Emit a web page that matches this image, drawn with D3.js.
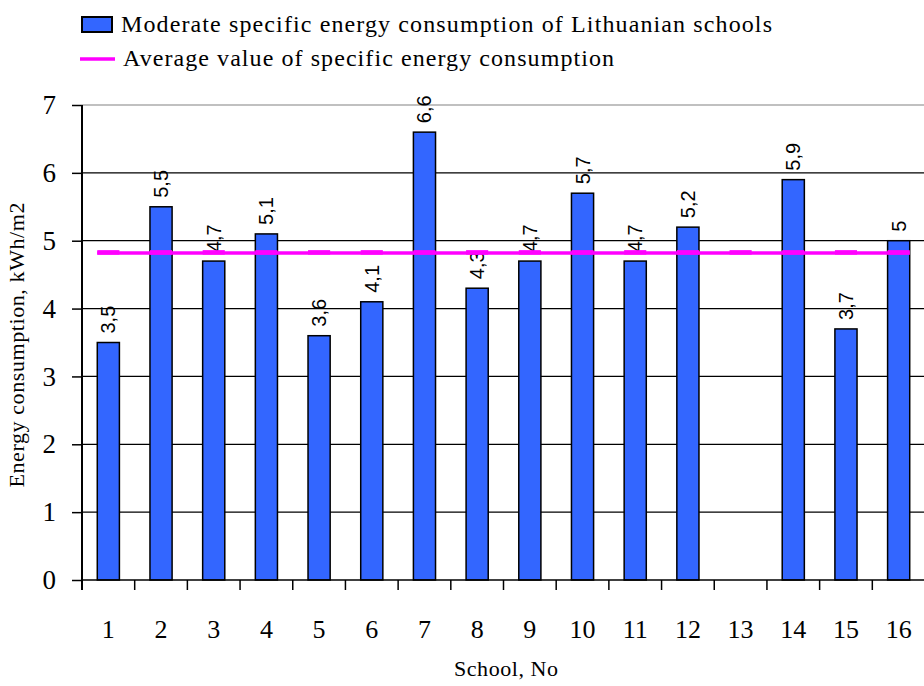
<!DOCTYPE html>
<html>
<head>
<meta charset="utf-8">
<script src="https://cdn.jsdelivr.net/npm/d3@7"></script>
<style>
  html, body { margin: 0; padding: 0; background: #fff; }
  svg { display: block; }
</style>
</head>
<body>
<svg id="chart" width="924" height="686"></svg>
<script>
const schools = ["1","2","3","4","5","6","7","8","9","10","11","12","13","14","15","16"];
const consumption = [3.5, 5.5, 4.7, 5.1, 3.6, 4.1, 6.6, 4.3, 4.7, 5.7, 4.7, 5.2, null, 5.9, 3.7, 5];
const valueLabels = ["3,5","5,5","4,7","5,1","3,6","4,1","6,6","4,3","4,7","5,7","4,7","5,2","","5,9","3,7","5"];
const average = [4.82,4.82,4.82,4.82,4.82,4.82,4.82,4.82,4.82,4.82,4.82,4.82,4.82,4.82,4.82,4.82];
const yTicks = [0,1,2,3,4,5,6,7];
const seriesNames = ["Moderate specific energy consumption of Lithuanian schools",
                     "Average value of specific energy consumption"];

(function () {
const svg = d3.select("#chart");
const pLeft = 82, pRight = 925, pTop = 105, pBottom = 580;
const serif = "'Liberation Serif', 'Times New Roman', serif";
const sans = "'Liberation Sans', Arial, sans-serif";

const x = d3.scaleBand().domain(schools).range([pLeft, pRight]).padding(0);
const y = d3.scaleLinear().domain([0, 7]).range([pBottom, pTop]);
const barW = x.bandwidth() * 0.42;
const cx = s => x(s) + x.bandwidth() / 2;

// gridlines
svg.append("g").selectAll("line").data(yTicks.filter(d => d > 0)).join("line")
  .attr("x1", pLeft).attr("x2", 924)
  .attr("y1", d => y(d)).attr("y2", d => y(d))
  .attr("stroke", d => d === 7 ? "#c0c0c0" : "#000")
  .attr("stroke-width", d => d === 7 ? 2 : 1.3);

const rows = schools.map((s, i) => ({s, v: consumption[i], l: valueLabels[i]})).filter(d => d.v != null);

// bars
svg.append("g").selectAll("rect").data(rows).join("rect")
  .attr("x", d => cx(d.s) - barW / 2)
  .attr("width", barW)
  .attr("y", d => y(d.v))
  .attr("height", d => y(0) - y(d.v))
  .attr("fill", "#3366FF")
  .attr("stroke", "#000")
  .attr("stroke-width", 1.5);

// value labels
svg.append("g").selectAll("text").data(rows).join("text")
  .attr("transform", d => `translate(${cx(d.s) + 7},${y(d.v) - 9}) rotate(-90)`)
  .attr("font-family", sans).attr("font-size", 20)
  .attr("fill", "#000")
  .text(d => d.l);

// average line
const avgG = svg.append("g");
avgG.append("path").datum(average)
  .attr("d", d3.line()
    .x((d, i) => cx(schools[i]) + (i === 0 ? -barW / 2 : i === schools.length - 1 ? barW / 2 : 0))
    .y(d => y(d)))
  .attr("fill", "none").attr("stroke", "#FF00FF").attr("stroke-width", 3.5);
avgG.selectAll("rect").data(average).join("rect")
  .attr("x", (d, i) => cx(schools[i]) - barW / 2)
  .attr("y", d => y(d) - 2.8)
  .attr("width", barW).attr("height", 4.5)
  .attr("fill", "#FF00FF");

// y axis
const yAxis = svg.append("g").attr("transform", `translate(${pLeft},0)`)
  .call(d3.axisLeft(y).tickValues(yTicks).tickSize(10).tickPadding(16).tickFormat(d3.format("d")));
yAxis.select(".domain").attr("d", `M0,${pTop}V${pBottom + 10}`).attr("stroke", "#000").attr("stroke-width", 2);
yAxis.selectAll(".tick line").attr("stroke", "#000").attr("stroke-width", 1.5);
yAxis.selectAll(".tick text").attr("font-family", serif).attr("font-size", 27).attr("fill", "#000");

// x axis
const xAxis = svg.append("g").attr("transform", `translate(0,${pBottom})`)
  .call(d3.axisBottom(x).tickSize(0).tickPadding(40));
xAxis.select(".domain").attr("d", `M${pLeft},0H${924}`).attr("stroke", "#000").attr("stroke-width", 1.5);
xAxis.selectAll(".tick text").attr("font-family", serif).attr("font-size", 26).attr("fill", "#000");
xAxis.append("g").selectAll("line").data(schools).join("line")
  .attr("x1", d => x(d)).attr("x2", d => x(d)).attr("y1", 0).attr("y2", 10)
  .attr("stroke", "#000").attr("stroke-width", 1.5);

// axis titles
svg.append("text").attr("x", 506).attr("y", 676).attr("text-anchor", "middle")
  .attr("font-family", serif).attr("font-size", 22).attr("textLength", 104)
  .text("School, No");
svg.append("text").attr("transform", "translate(24,345) rotate(-90)").attr("text-anchor", "middle")
  .attr("font-family", serif).attr("font-size", 22).attr("textLength", 285)
  .text("Energy consumption, kWh/m2");

// legend
const lg = svg.append("g");
lg.append("rect").attr("x", 82).attr("y", 17).attr("width", 30).attr("height", 15)
  .attr("fill", "#3366FF").attr("stroke", "#000").attr("stroke-width", 2);
lg.append("line").attr("x1", 80).attr("x2", 115).attr("y1", 59).attr("y2", 59)
  .attr("stroke", "#FF00FF").attr("stroke-width", 3.5);
lg.append("text").attr("x", 121).attr("y", 32).attr("font-family", serif).attr("font-size", 24)
  .attr("textLength", 651).text(seriesNames[0]);
lg.append("text").attr("x", 123).attr("y", 66).attr("font-family", serif).attr("font-size", 24)
  .attr("textLength", 491).text(seriesNames[1]);
})();
</script>
</body>
</html>
